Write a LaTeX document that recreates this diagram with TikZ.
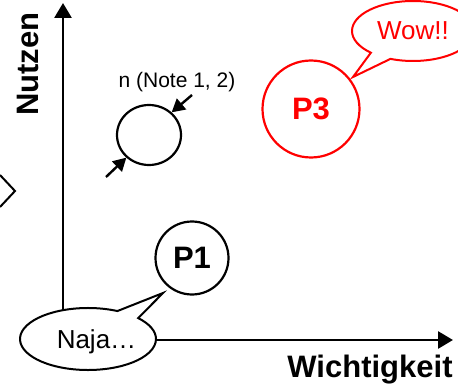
\documentclass[tikz,border=0pt]{standalone}
\usepackage{fontspec}
\setmainfont{Liberation Sans}
\usetikzlibrary{arrows.meta,shapes.callouts,shapes.geometric}
\definecolor{pred}{RGB}{255,0,0}
\begin{document}
\begin{tikzpicture}[x=1pt,y=-1pt,
  axis/.style={line width=2.8pt,-{Triangle[length=15pt,width=17pt]}},
  bigtext/.style={font=\fontsize{31}{31}\selectfont\bfseries},
  bubble/.style={circle,draw,line width=2.2pt,inner sep=0pt,bigtext},
  speech/.style={ellipse callout,draw,fill=white,line width=2pt,inner sep=0pt,callout pointer arc=22},
  speechtext/.style={font=\fontsize{26}{26}\selectfont,inner sep=0pt,anchor=base},
  note/.style={font=\fontsize{21}{21}\selectfont,inner sep=0pt,anchor=base},
  smallarrow/.style={line width=2.4pt,-{Triangle[length=13pt,width=14pt]}},
  chevron/.style={line width=2pt}]
\useasboundingbox (0,0) rectangle (458,385);
\clip (0,0) rectangle (458,385);

% left partial shape
\draw[chevron] (0,175) -- (15,191) -- (0,207);

% axes
\coordinate (o) at (63,340);
\coordinate (xe) at (453,340);
\coordinate (ye) at (63,3);
\draw[axis] (o) -- (xe);
\draw[axis] (o) -- (ye);
\node[bigtext,rotate=90,anchor=base,inner sep=0pt] (ylab) at (38,64) {Nutzen};
\node[bigtext,anchor=base,inner sep=0pt] (xlab) at (370,377) {Wichtigkeit};

% small circle with arrows
\node[ellipse,draw,line width=2.2pt,minimum width=64pt,minimum height=60pt,inner sep=0pt] (sc) at (149,135) {};
\node[note] (nlab) at (177,88) {n (Note 1, 2)};
\coordinate (a1) at (192,95);
\coordinate (a2) at (106,177);
\draw[smallarrow] (a1) -- (sc.45);
\draw[smallarrow] (a2) -- (sc.225);

% P3
\node[bubble,draw=pred,text=pred,minimum size=97pt] (p3) at (311,109) {P3};
\node[speech,draw=pred,text=pred,minimum width=122pt,minimum height=60pt,
  callout absolute pointer={(353,77)},font=\fontsize{26}{26}\selectfont] (wow) at (413,31) {Wow!!};

% P1
\node[bubble,minimum size=73pt] (p1) at (192,258) {P1};
\node[speech,minimum width=136pt,minimum height=62pt,
  callout absolute pointer={(163,293)}] (naja) at (88,339) {};
\node[speechtext] (najat) at (96.5,348) {Naja…};
\end{tikzpicture}
\end{document}
